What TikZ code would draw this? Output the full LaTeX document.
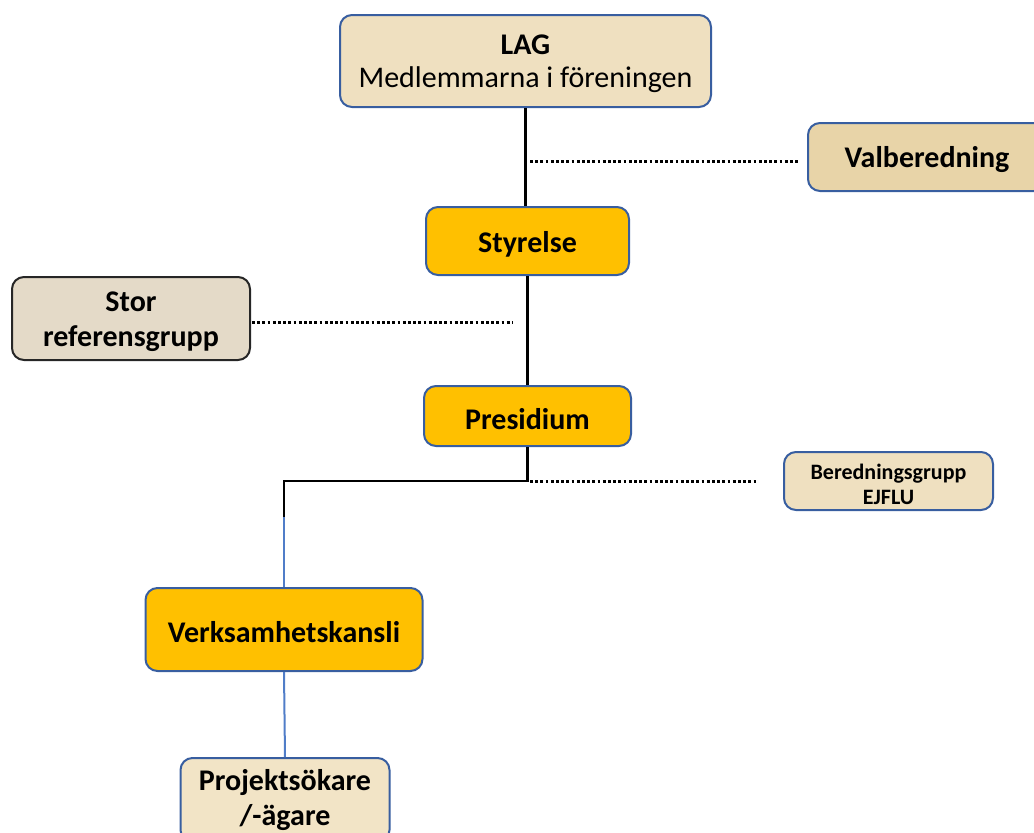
\documentclass[tikz,border=0pt]{standalone}
\usepackage{fontspec}
\setmainfont{Carlito}
\definecolor{bordblue}{RGB}{56,94,160}
\definecolor{lineblue}{RGB}{80,125,200}
\definecolor{orangefill}{RGB}{255,192,0}
\definecolor{beige}{RGB}{239,224,192}
\definecolor{tan}{RGB}{232,212,168}
\definecolor{greybeige}{RGB}{228,218,200}
\definecolor{paleb}{RGB}{242,228,198}
\newcommand{\dn}[1]{\raisebox{-3pt}[\height][\depth]{#1}}
\tikzset{
  box/.style={draw=bordblue, line width=2pt, rounded corners=12pt, align=center, inner sep=0pt, font=\fontsize{30}{35}\selectfont\bfseries},
  solidline/.style={draw=black, line width=2.6pt},
  blueline/.style={draw=lineblue, line width=2pt},
  dotline/.style={draw=black, line width=3pt, dash pattern=on 2.8pt off 2.4pt}
}
\begin{document}
\begin{tikzpicture}[x=1pt,y=-1pt]
\useasboundingbox (0,0) rectangle (1034,833);
\clip (0,0) rectangle (1034,833);
\node[box, fill=beige, minimum width=371pt, minimum height=92pt] (lag) at (525.5,61)
  {\dn{LAG}\\[-2pt]\mdseries\dn{Medlemmarna i föreningen}};
\node[box, fill=tan, minimum width=238pt, minimum height=68pt] (val) at (927,157) {\dn{Valberedning}};
\node[box, fill=orangefill, minimum width=203pt, minimum height=68pt] (sty) at (527.5,241) {\dn{Styrelse}};
\node[box, draw=black!85, fill=greybeige, minimum width=238pt, minimum height=83pt] (stor) at (131,318.5) {\dn{Stor}\\\dn{referensgrupp}};
\node[box, fill=orangefill, minimum width=207pt, minimum height=60pt] (pres) at (527.5,416) {\dn{Presidium}};
\node[box, fill=beige, minimum width=209pt, minimum height=58pt, font=\fontsize{22}{25}\selectfont\bfseries] (ber) at (888.5,481) {\dn{Beredningsgrupp}\\\dn{EJFLU}};
\node[box, fill=orangefill, minimum width=277pt, minimum height=83pt] (verk) at (284,629.5) {\dn{Verksamhetskansli}};
\node[box, fill=paleb, minimum width=209pt, minimum height=84pt] (proj) at (285,800) {Projektsökare\\/-ägare};
% connectors
\draw[solidline] (lag.south) -- (lag.south |- sty.north);
\coordinate (va) at (530,161);
\coordinate (vb) at (800,161);
\draw[dotline] (va) -- (vb);
\draw[solidline] (sty.south) -- (pres.north);
\coordinate (sa) at (252,322);
\coordinate (sb) at (513,322);
\draw[dotline] (sa) -- (sb);
\coordinate (j) at (527.5,481);
\coordinate (k) at (284,481);
\coordinate (m) at (284,517);
\draw[solidline] (pres.south) -- (j) -- (k) -- (m);
\draw[blueline] (m) -- (verk.north);
\coordinate (ba) at (530,481);
\coordinate (bb) at (758,481);
\draw[dotline] (ba) -- (bb);
\draw[blueline] (verk.south) -- (proj.north);
\end{tikzpicture}
\end{document}
